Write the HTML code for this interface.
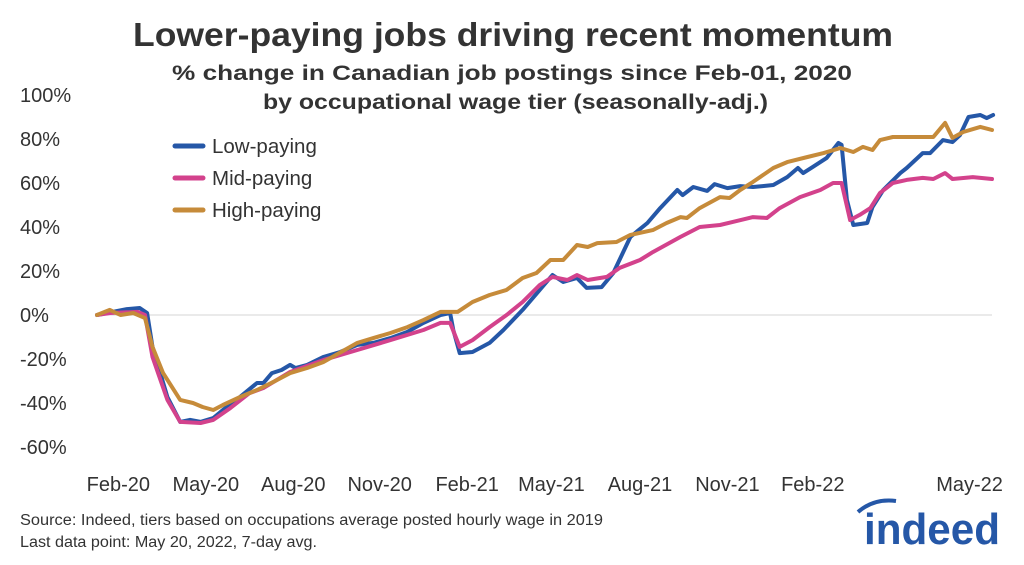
<!DOCTYPE html>
<html><head><meta charset="utf-8"><style>
html,body{margin:0;padding:0;background:#fff;}
body{width:1024px;height:560px;overflow:hidden;font-family:"Liberation Sans",sans-serif;}
</style></head><body>
<svg id="chart" width="1024" height="560" viewBox="0 0 1024 560" xmlns="http://www.w3.org/2000/svg" font-family="Liberation Sans, sans-serif">
<text x="133" y="46" textLength="760" lengthAdjust="spacingAndGlyphs" font-size="33" font-weight="bold" fill="#333">Lower-paying jobs driving recent momentum</text>
<text x="172" y="80" textLength="680" lengthAdjust="spacingAndGlyphs" font-size="21" font-weight="bold" fill="#333">% change in Canadian job postings since Feb-01, 2020</text>
<text x="263" y="109" textLength="505" lengthAdjust="spacingAndGlyphs" font-size="21" font-weight="bold" fill="#333">by occupational wage tier (seasonally-adj.)</text>
<g id="yaxis"></g>
<g id="xaxis"></g>
<line x1="97" x2="992" y1="315" y2="315" stroke="#e3e3e3" stroke-width="1.5"/>
<g id="series"></g>
<g>
<g><line x1="175" x2="203" y1="146" y2="146" stroke="#2557a7" stroke-width="5" stroke-linecap="round"/><text x="212" y="153" font-size="20.5" fill="#333">Low-paying</text></g>
<g><line x1="175" x2="203" y1="178" y2="178" stroke="#d3428c" stroke-width="5" stroke-linecap="round"/><text x="212" y="185" font-size="20.5" fill="#333">Mid-paying</text></g>
<g><line x1="175" x2="203" y1="210" y2="210" stroke="#c68b3a" stroke-width="5" stroke-linecap="round"/><text x="212" y="217" font-size="20.5" fill="#333">High-paying</text></g>
</g>
<text x="20" y="525" textLength="583" lengthAdjust="spacingAndGlyphs" font-size="15.5" fill="#333">Source: Indeed, tiers based on occupations average posted hourly wage in 2019</text>
<text x="20" y="547" textLength="297" lengthAdjust="spacingAndGlyphs" font-size="15.5" fill="#333">Last data point: May 20, 2022, 7-day avg.</text>
<g>
<text x="864" y="544" textLength="136" lengthAdjust="spacingAndGlyphs" font-size="44" font-weight="bold" fill="#2557a7">indeed</text>
<path d="M858 512 Q874 498 896 501" stroke="#2557a7" stroke-width="4" fill="none"/>
</g>
</svg>
<script>
const yTicks=[100,80,60,40,20,0,-20,-40,-60];
const yTickLabels=["100%","80%","60%","40%","20%","0%","-20%","-40%","-60%"];
const xTickLabels=["Feb-20","May-20","Aug-20","Nov-20","Feb-21","May-21","Aug-21","Nov-21","Feb-22","May-22"];
const xTickDays=[20,102,184,265,347,426,509,591,671,818];
const lowDays=[0,28,40,47,52,66,78,87,97,109,118,134,150,156,164,173,181,186,197,212,228,244,259,275,291,306,322,331,334,340,352,368,381,399,415,427,437,450,459,473,484,500,516,528,544,549,559,572,579,591,603,615,624,634,647,657,662,671,684,695,698,703,709,722,727,737,753,759,774,781,793,802,809,817,828,834,840];
const lowVals=[0,2.7,3.2,0.9,-14.5,-37.3,-48.6,-47.7,-48.6,-46.8,-43.2,-37.3,-30.9,-30.9,-26.4,-25,-22.7,-24.1,-22.7,-19.1,-16.8,-13.6,-12.7,-10.5,-7.7,-3.6,0,0.9,-6.8,-17.3,-16.8,-12.7,-6.8,2.3,11.4,18.2,15,16.8,12.3,12.7,19.1,35.5,41.8,48.6,56.8,54.5,58.2,56.4,59.5,57.7,58.6,58.2,58.6,59.1,62.7,66.8,64.5,67.3,71.4,78.2,77.3,52.3,40.9,41.8,49.1,56.8,64.5,66.8,73.6,73.6,79.5,78.6,81.8,90,90.9,89.5,90.9];
const midDays=[0,12,38,45,52,66,78,97,109,125,143,156,181,212,244,275,306,322,331,340,352,368,384,399,415,427,441,450,460,478,490,509,521,547,565,584,596,615,628,640,659,678,690,698,706,715,725,734,746,759,774,784,795,802,821,839];
const midVals=[0,0.9,1.4,0,-19.1,-38.6,-48.6,-49.1,-47.7,-42.3,-35.5,-33.2,-25.9,-20.5,-15.9,-11.4,-6.8,-3.6,-3.6,-14.5,-11.4,-5.5,0,5.9,13.6,17.3,15.9,18.2,15.9,17.3,21.4,25,28.6,35.5,40,40.9,42.3,44.5,44.1,48.6,53.6,56.8,60,60,43.2,45.5,48.6,55.5,60,61.4,62.3,61.8,64.5,61.8,62.7,61.8];
const highDays=[0,12,22,34,45,52,62,78,90,99,109,118,134,150,165,181,197,212,244,259,275,291,306,322,338,352,368,384,399,412,425,437,450,460,469,487,500,521,534,547,553,565,584,593,603,615,634,647,666,681,697,709,718,727,734,746,784,795,802,812,828,839];
const highVals=[0,2.3,0,0.9,-1.4,-14.5,-26.4,-38.6,-40,-41.8,-43.2,-40.9,-37.3,-34.1,-30.5,-26.4,-24.1,-21.4,-12.7,-10.5,-8.2,-5.5,-2.3,1.4,1.4,5.9,9.1,11.4,16.8,19.1,25,25,31.8,30.9,32.7,33.2,36.4,38.6,41.8,44.5,44.1,48.6,53.6,53.2,56.8,60.5,66.8,69.5,71.8,73.6,75.9,74.1,76.4,75,79.5,80.9,80.9,87.3,80.5,83.2,85.5,84.1];
const NS="http://www.w3.org/2000/svg";
function xScale(d){return 97+d*(895/839);}
function yScale(v){return 315-v*2.2;}
const ya=document.getElementById('yaxis');
yTicks.forEach((v,i)=>{const t=document.createElementNS(NS,'text');


t.setAttribute('x',20);t.setAttribute('y',yScale(v)+7);t.setAttribute('font-size','20');t.setAttribute('fill','#333');t.textContent=yTickLabels[i];ya.appendChild(t);});
const xa=document.getElementById('xaxis');
xTickLabels.forEach((l,i)=>{const t=document.createElementNS(NS,'text');


t.setAttribute('x',xScale(xTickDays[i]));t.setAttribute('y',491);t.setAttribute('text-anchor','middle');t.setAttribute('font-size','20');t.setAttribute('fill','#333');t.textContent=l;xa.appendChild(t);});
const sg=document.getElementById('series');
function draw(days,vals,color,name){const p=document.createElementNS(NS,'path');


p.setAttribute('d',days.map((d,i)=>(i?'L':'M')+xScale(d).toFixed(1)+' '+yScale(vals[i]).toFixed(1)).join(' '));
p.setAttribute('fill','none');p.setAttribute('stroke',color);p.setAttribute('stroke-width','4');p.setAttribute('stroke-linejoin','round');p.setAttribute('stroke-linecap','round');sg.appendChild(p);}
draw(lowDays,lowVals,'#2557a7','low-paying-line');
draw(midDays,midVals,'#d3428c','mid-paying-line');
draw(highDays,highVals,'#c68b3a','high-paying-line');
</script>
</body></html>
